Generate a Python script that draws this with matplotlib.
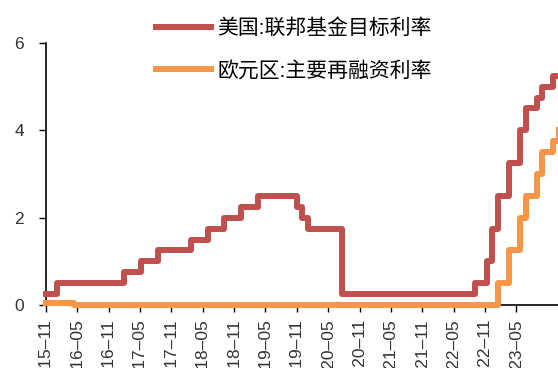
import matplotlib
matplotlib.use("Agg")
import matplotlib.pyplot as plt
import pandas as pd
import numpy as np

plt.rcParams['font.family'] = ['Liberation Sans', 'Noto Sans CJK SC', 'DejaVu Sans']

# rate changes (month of change, new level)
fed_months = ['2015-10', '2015-12', '2016-12', '2017-03', '2017-06', '2017-12',
              '2018-03', '2018-06', '2018-09', '2018-12', '2019-07', '2019-08',
              '2019-09', '2020-03', '2022-03', '2022-05', '2022-06', '2022-07',
              '2022-09', '2022-11', '2022-12', '2023-02', '2023-03', '2023-05']
fed_rates = [0.25, 0.5, 0.75, 1.0, 1.25, 1.5, 1.75, 2.0, 2.25, 2.5, 2.25, 2.0,
             1.75, 0.25, 0.5, 1.0, 1.75, 2.5, 3.25, 4.0, 4.5, 4.75, 5.0, 5.25]

ecb_months = ['2015-10', '2016-03', '2022-07', '2022-09', '2022-11', '2022-12',
              '2023-02', '2023-03', '2023-05', '2023-06']
ecb_rates = [0.05, 0.0, 0.5, 1.25, 2.0, 2.5, 3.0, 3.5, 3.75, 4.0]

end_month = '2023-06'

tick_labels = ['2015–11', '2016–05', '2016–11', '2017–05', '2017–11', '2018–05',
               '2018–11', '2019–05', '2019–11', '2020–05', '2020–11', '2021–05',
               '2021–11', '2022–05', '2022–11', '2023–05']

start = pd.Period('2015-10', 'M')


def month_idx(months):
    return [(pd.Period(m, 'M') - start).n for m in months]


def series(months, rates):
    x = month_idx(months) + month_idx([end_month])
    y = list(rates) + [rates[-1]]
    return x, y


fig = plt.figure(figsize=(5.58, 3.68), dpi=100)
ax = fig.add_axes([46 / 558, 63 / 368, 513 / 558, 262 / 368])

x, y = series(fed_months, fed_rates)
ax.plot(x, y, drawstyle='steps-post', color='#C0504D', lw=4.3,
        label='美国:联邦基金目标利率', clip_on=False, zorder=3)
x, y = series(ecb_months, ecb_rates)
ax.plot(x, y, drawstyle='steps-post', color='#F79646', lw=4.3,
        label='欧元区:主要再融资利率', clip_on=False, zorder=3)

ax.set_xlim(0, 92)
ax.set_ylim(0, 6)
ax.set_yticks([0, 2, 4, 6])
ax.set_xticks(np.arange(len(tick_labels)) * 5.623)
ax.set_xticklabels(tick_labels, rotation=90)

for s in ['top', 'right']:
    ax.spines[s].set_visible(False)
for s in ['left', 'bottom']:
    ax.spines[s].set_linewidth(1.2)
    ax.spines[s].set_color('black')
ax.tick_params(axis='y', direction='out', length=5, width=1, pad=11,
               labelsize=12.5, colors='black', labelcolor='#333333')
ax.tick_params(axis='x', direction='out', length=5, width=1, pad=5,
               labelsize=12.5, colors='black', labelcolor='#333333')

ax.legend(loc='upper left', bbox_to_anchor=(156 / 558, 1 - 18 / 368),
          bbox_transform=fig.transFigure, frameon=False, fontsize=15,
          handlelength=2.65, handletextpad=0.3, labelspacing=1.1,
          borderpad=0, borderaxespad=0)

fig.savefig('out.png', dpi=100)
